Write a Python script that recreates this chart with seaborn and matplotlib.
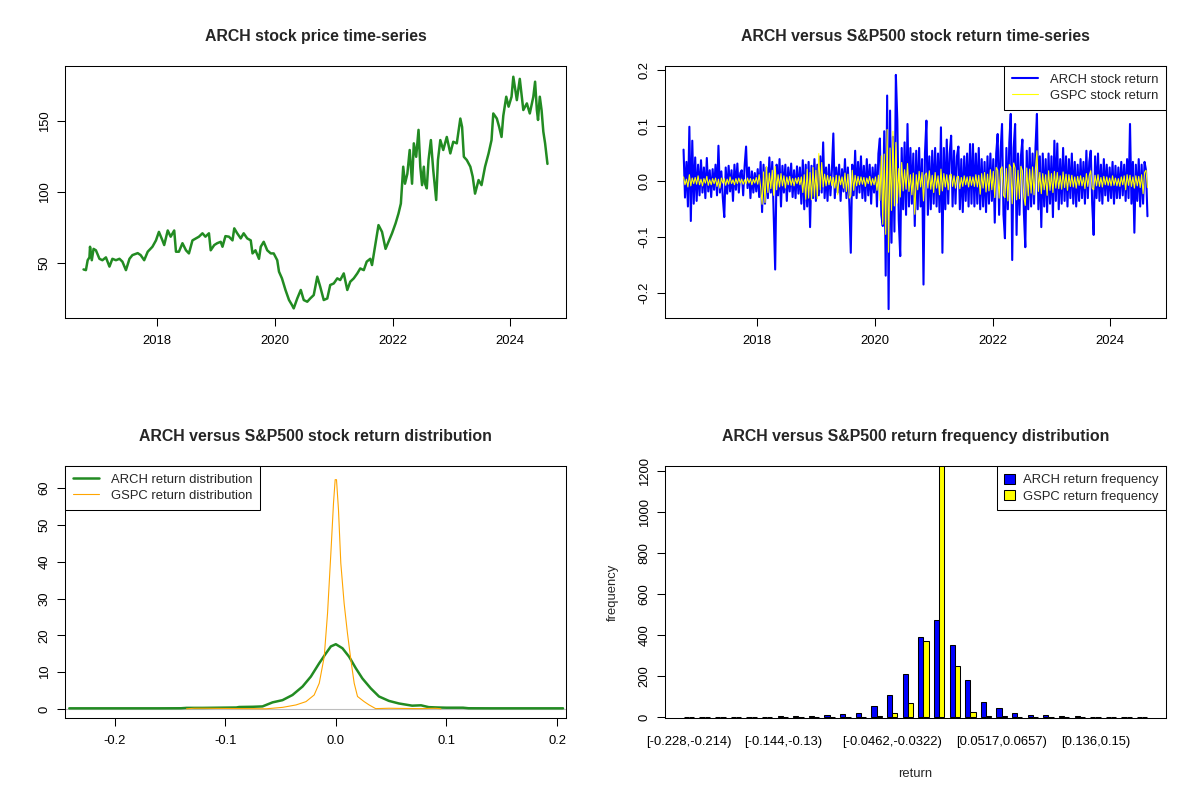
import numpy as np
import pandas as pd
import matplotlib
matplotlib.use("Agg")
import matplotlib.pyplot as plt
import seaborn as sns
from matplotlib.lines import Line2D
from matplotlib.patches import Patch

# ---------------- data ----------------
PRICE_YEARS = [2016.75, 2016.79, 2016.82, 2016.85, 2016.86, 2016.89, 2016.92, 2016.96, 2017.02, 2017.07,
               2017.13, 2017.19, 2017.24, 2017.30, 2017.36, 2017.41, 2017.47, 2017.53, 2017.58, 2017.67,
               2017.72, 2017.78, 2017.84, 2017.92, 2017.98, 2018.03, 2018.09, 2018.12, 2018.18, 2018.23,
               2018.29, 2018.32, 2018.37, 2018.43, 2018.49, 2018.54, 2018.60, 2018.66, 2018.71, 2018.77,
               2018.82, 2018.88, 2018.91, 2018.97, 2019.02, 2019.08, 2019.11, 2019.16, 2019.22, 2019.28,
               2019.31, 2019.36, 2019.42, 2019.47, 2019.53, 2019.59, 2019.62, 2019.67, 2019.73, 2019.76,
               2019.81, 2019.87, 2019.93, 2019.98, 2020.04, 2020.07, 2020.12, 2020.18, 2020.24, 2020.29,
               2020.32, 2020.38, 2020.44, 2020.49, 2020.55, 2020.60, 2020.66, 2020.72, 2020.77, 2020.83,
               2020.89, 2020.94, 2021.00, 2021.06, 2021.11, 2021.17, 2021.23, 2021.28, 2021.34, 2021.40,
               2021.45, 2021.51, 2021.56, 2021.62, 2021.65, 2021.71, 2021.76, 2021.82, 2021.88, 2021.93,
               2021.99, 2022.05, 2022.10, 2022.14, 2022.18, 2022.21, 2022.25, 2022.29, 2022.33, 2022.36,
               2022.40, 2022.44, 2022.47, 2022.50, 2022.53, 2022.55, 2022.58, 2022.61, 2022.65, 2022.69,
               2022.74, 2022.77, 2022.81, 2022.86, 2022.92, 2022.98, 2023.03, 2023.09, 2023.15, 2023.18,
               2023.21, 2023.26, 2023.32, 2023.36, 2023.40, 2023.46, 2023.51, 2023.57, 2023.63, 2023.68,
               2023.71, 2023.77, 2023.81, 2023.85, 2023.88, 2023.93, 2023.97, 2024.02, 2024.05, 2024.11,
               2024.16, 2024.22, 2024.28, 2024.33, 2024.39, 2024.42, 2024.45, 2024.47, 2024.50, 2024.53,
               2024.56, 2024.59, 2024.63]
ARCH_PRICE = [45.5, 45, 52, 54, 61.5, 52, 60, 59, 53, 52,
              54, 47.5, 53, 52, 53, 51, 45, 53, 55.6, 57,
              55.6, 52, 58, 61.5, 66, 72, 66, 62.7, 73, 68.6,
              73, 58, 58, 64, 59, 56.8, 66, 67.4, 68.6, 71,
              68.6, 71, 59, 62.7, 64, 65, 61.5, 69, 68.6, 66,
              74.5, 71, 67.4, 71, 67.4, 66, 56.8, 59, 53, 61.5,
              65, 59, 56.8, 56.8, 52, 43.9, 39.2, 31, 23.9, 20.4,
              18, 25, 31, 23.9, 22.7, 25, 27.4, 40.4, 33.3, 23.9,
              25, 34.5, 35.6, 39.2, 38, 42.7, 31, 36.8, 39.2, 42.7,
              46.2, 45, 51, 53, 48.6, 64, 76.8, 72, 60, 65,
              71, 78, 85, 92, 118, 106, 113, 129.8, 106, 134.5,
              125, 144, 118, 105, 118, 106, 102.7, 122.7, 136.8, 115.6,
              94.5, 122.7, 136.8, 129.8, 139, 127.4, 135.6, 134.5, 152, 146,
              125, 122.7, 118, 111, 99, 108.6, 105, 118, 127.4, 136.8,
              155.6, 152, 146, 139, 154, 167.4, 160.4, 167.4, 181.5, 165,
              180, 158, 162.7, 155.6, 167.4, 178, 158, 151, 167.4, 158,
              142.7, 134.5, 120]

RET_START, RET_END = 2016.75, 2024.63
ARCH_RET = [
    0.057, -0.029, 0.035, -0.045, 0.098, -0.071, 0.073, -0.040, 0.043, -0.035, 0.030, -0.025, 0.038, -0.020, 0.025, -0.030, 0.042, -0.018, 0.020, -0.028,
    0.022, -0.015, 0.030, -0.025, 0.064, -0.020, 0.018, -0.030, -0.064, 0.025, -0.022, 0.028, -0.018, 0.020, -0.035, 0.030, -0.015, 0.032, -0.020, 0.015,
    0.020, -0.025, 0.028, 0.0625, -0.012, 0.025, -0.030, 0.018, -0.020, 0.015, -0.018, 0.022, -0.028, 0.035, -0.055, 0.030, -0.040, 0.025, -0.030, 0.043,
    -0.020, 0.035, -0.062, -0.158, 0.030, -0.025, 0.040, -0.045, 0.028, -0.020, 0.030, -0.035, 0.025, -0.018, 0.032, -0.028, 0.020, -0.030, 0.027, -0.022,
    0.025, -0.040, 0.038, -0.050, 0.030, -0.045, 0.035, -0.082, 0.028, -0.030, 0.040, -0.035, 0.030, -0.025, 0.045, -0.020, 0.070, -0.030, 0.025, -0.035,
    0.030, -0.025, 0.020, 0.086, -0.030, 0.025, -0.020, 0.030, -0.035, 0.022, -0.018, 0.040, -0.030, 0.025, -0.040, -0.128, 0.030, -0.025, 0.055, -0.030,
    0.035, -0.020, 0.045, -0.030, 0.028, -0.035, 0.040, -0.025, 0.030, -0.040, 0.025, -0.020, 0.030, -0.045, 0.050, 0.077, -0.060, -0.080, 0.090, -0.169,
    0.154, -0.229, 0.127, -0.110, 0.080, -0.090, 0.191, 0.109, -0.070, -0.134, 0.060, -0.050, 0.070, -0.060, 0.103, -0.045, 0.060, -0.040, 0.050, -0.080,
    0.055, -0.050, 0.060, -0.045, 0.040, -0.185, 0.050, 0.109, -0.060, 0.045, -0.050, 0.055, -0.040, 0.060, -0.045, 0.050, -0.055, 0.097, -0.128, 0.060,
    -0.050, 0.075, -0.040, 0.050, 0.082, -0.045, 0.055, -0.040, 0.045, 0.0625, -0.050, 0.040, -0.055, 0.045, -0.035, 0.050, -0.045, 0.067, -0.040, 0.067,
    -0.045, 0.050, -0.040, 0.060, -0.050, 0.040, -0.045, 0.035, -0.055, 0.045, -0.040, 0.050, -0.035, 0.040, -0.074, 0.050, 0.085, -0.060, 0.055, 0.103,
    -0.060, -0.102, 0.060, -0.050, 0.070, 0.121, -0.141, 0.060, 0.103, -0.096, 0.050, -0.060, 0.045, 0.075, -0.055, -0.118, 0.055, -0.050, 0.060, -0.045,
    0.050, -0.040, 0.060, 0.121, -0.050, 0.045, -0.082, 0.050, -0.045, 0.040, -0.055, 0.050, -0.040, 0.045, -0.064, 0.073, -0.035, 0.068, -0.050, 0.040,
    -0.040, 0.060, -0.035, 0.045, -0.045, 0.040, -0.030, 0.050, -0.040, 0.035, -0.045, 0.030, -0.035, 0.040, -0.030, 0.035, -0.040, 0.055, -0.030, 0.035,
    0.055, -0.040, -0.096, 0.045, -0.030, 0.050, -0.035, 0.030, -0.040, 0.040, -0.025, 0.030, -0.035, 0.025, -0.030, 0.035, -0.040, 0.028, -0.030, 0.025,
    -0.030, 0.035, -0.025, 0.030, -0.035, 0.040, -0.030, 0.103, -0.040, 0.035, -0.092, 0.030, -0.035, 0.040, -0.045, 0.030, -0.040, 0.035, 0.020, -0.0625,
]
GSPC_RET = [
    0.008, -0.006, 0.004, -0.010, 0.012, -0.008, 0.006, -0.004, 0.007, -0.005, 0.010, -0.006, 0.004, -0.008, 0.005, -0.003, 0.009, -0.007, 0.003, -0.006,
    0.005, -0.004, 0.006, -0.009, 0.004, -0.012, 0.006, -0.003, 0.005, -0.007, 0.004, -0.005, 0.008, -0.004, 0.003, -0.006, 0.005, -0.004, 0.006, -0.003,
    0.004, -0.005, 0.003, -0.004, 0.006, -0.003, 0.005, -0.006, 0.004, -0.003, 0.007, -0.005, 0.012, -0.010, -0.041, 0.017, -0.038, 0.027, -0.020, 0.015,
    -0.013, 0.020, -0.025, 0.027, -0.015, 0.012, -0.010, 0.014, -0.008, 0.010, -0.012, 0.008, -0.006, 0.009, -0.007, 0.005, -0.008, 0.006, -0.004, 0.007,
    -0.006, 0.008, -0.020, 0.012, -0.032, 0.022, -0.030, 0.016, -0.033, 0.025, -0.027, 0.020, -0.031, 0.050, -0.015, 0.034, -0.010, 0.013, -0.008, 0.011,
    -0.006, 0.009, -0.008, 0.007, -0.012, 0.011, -0.024, 0.010, -0.006, 0.008, -0.012, 0.015, -0.018, 0.013, -0.030, -0.026, 0.020, -0.016, 0.011, -0.008,
    0.009, -0.006, 0.008, -0.005, 0.007, -0.009, 0.006, -0.004, 0.009, -0.007, 0.005, -0.006, 0.008, -0.016, 0.011, -0.034, 0.046, -0.077, 0.049, -0.095,
    0.093, -0.127, 0.060, -0.052, 0.090, -0.044, 0.070, -0.039, 0.023, -0.028, 0.034, -0.017, 0.021, -0.014, 0.032, -0.018, 0.012, -0.024, 0.015, -0.059,
    0.012, -0.015, 0.018, -0.010, 0.016, -0.035, 0.011, 0.015, -0.012, 0.019, -0.014, 0.011, -0.020, 0.016, -0.012, 0.010, -0.024, 0.022, -0.017, 0.014,
    -0.010, 0.012, -0.015, 0.011, 0.013, -0.009, 0.010, -0.012, 0.008, 0.009, -0.013, 0.007, -0.009, 0.010, -0.006, 0.008, -0.010, 0.009, -0.007, 0.008,
    -0.009, 0.012, -0.010, 0.011, -0.023, 0.014, -0.012, 0.016, -0.019, 0.013, -0.017, 0.021, -0.015, 0.018, -0.029, 0.025, 0.020, -0.030, 0.022, 0.026,
    -0.025, -0.029, 0.023, -0.035, 0.030, 0.025, -0.040, 0.033, 0.024, -0.033, 0.020, -0.031, 0.027, 0.019, -0.028, -0.043, 0.024, -0.026, 0.022, -0.021,
    0.026, -0.024, 0.023, 0.055, -0.018, 0.016, -0.022, 0.014, -0.015, 0.012, -0.025, 0.019, -0.016, 0.014, -0.020, 0.018, -0.012, 0.016, -0.013, 0.010,
    -0.014, 0.017, -0.011, 0.013, -0.016, 0.012, -0.009, 0.011, -0.010, 0.008, -0.012, 0.009, -0.007, 0.010, -0.008, 0.007, -0.013, 0.014, -0.009, 0.011,
    0.019, -0.012, -0.015, 0.011, -0.008, 0.012, -0.009, 0.007, -0.010, 0.009, -0.006, 0.008, -0.007, 0.006, -0.008, 0.010, -0.007, 0.006, -0.008, 0.005,
    -0.009, 0.008, -0.006, 0.010, -0.015, 0.012, -0.007, 0.011, -0.009, 0.008, -0.012, 0.010, -0.008, 0.009, -0.011, 0.012, -0.022, 0.016, 0.020, -0.011,
]

ARCH_DENS_X = [-0.241, -0.20, -0.16, -0.14, -0.135, -0.12, -0.105, -0.09, -0.0874, -0.075, -0.0663, -0.0572,
               -0.0482, -0.0392, -0.0301, -0.0226, -0.0151, -0.009, -0.0045, 0.0, 0.006, 0.012, 0.018, 0.024,
               0.0316, 0.039, 0.048, 0.057, 0.069, 0.077, 0.084, 0.093, 0.10, 0.115, 0.12, 0.14, 0.17, 0.2054]
ARCH_DENS_Y = [0.18, 0.18, 0.18, 0.2, 0.3, 0.3, 0.35, 0.4, 0.54, 0.6, 0.7, 1.8,
               2.4, 3.8, 6.1, 8.8, 12.4, 15.1, 17.0, 17.6, 16.5, 14.2, 11.1, 8.3,
               5.6, 3.4, 2.2, 1.5, 0.9, 1.0, 0.5, 0.4, 0.35, 0.35, 0.2, 0.18, 0.18, 0.18]
GSPC_DENS_X = [-0.135, -0.128, -0.118, -0.10, -0.08, -0.063, -0.048, -0.036, -0.027, -0.0196, -0.015,
               -0.0105, -0.0075, -0.0045, -0.0021, -0.0006, 0.0006, 0.0024, 0.0045, 0.0075, 0.0105,
               0.0136, 0.0166, 0.0196, 0.0256, 0.0301, 0.036, 0.048, 0.06, 0.075, 0.09, 0.095]
GSPC_DENS_Y = [0.05, 0.2, 0.2, 0.15, 0.1, 0.05, 0.45, 1.1, 2.0, 3.8, 7.0,
               14.2, 26, 42.3, 56, 62.3, 62.3, 54.1, 39.6, 28.7, 20.6,
               13.3, 7.0, 3.4, 2.0, 1.1, 0.1, 0.2, 0.15, 0.1, 0.2, 0.05]

ARCH_FREQ = [1, 0, 0, 0, 0, 1, 3, 3, 3, 10, 16, 21, 55, 109, 211, 392, 475, 353, 182, 75,
             45, 21, 11, 11, 6, 5, 1, 0, 0, 1]
GSPC_FREQ = [0, 0, 0, 0, 0, 0, 0, 1, 0, 1, 1, 2, 5, 20, 70, 372, 1265, 250, 25, 5,
             5, 2, 1, 1, 0, 0, 0, 0, 0, 0]
HIST_LABEL_BINS = [0, 6, 13, 20, 26]
HIST_LABELS = ["[-0.228,-0.214)", "[-0.144,-0.13)", "[-0.0462,-0.0322)", "[0.0517,0.0657)", "[0.136,0.15)"]

TITLES = ["ARCH stock price time-series",
          "ARCH versus S&P500 stock return time-series",
          "ARCH versus S&P500 stock return distribution",
          "ARCH versus S&P500 return frequency distribution"]

# ---------------- style ----------------
sns.set_style("white")
plt.rcParams['font.family'] = ['Liberation Sans', 'DejaVu Sans']
plt.rcParams['axes.linewidth'] = 0.75
FS = 9.4
TFS = 11.4

fig = plt.figure(figsize=(12, 8), dpi=100)
W, H = 1200.0, 800.0
BW, BH = 500.7, 252.6


def make_ax(left, top):
    ax = fig.add_axes([left / W, 1 - (top + BH) / H, BW / W, BH / H])
    for s in ax.spines.values():
        s.set_visible(True)
        s.set_color('black')
        s.set_linewidth(0.75)
    ax.tick_params(axis='both', direction='out', length=5.5, width=0.75,
                   labelsize=FS, colors='black', bottom=True, left=True)
    ax.tick_params(axis='x', pad=6.5)
    ax.tick_params(axis='y', pad=5, labelrotation=90)
    ax.set_facecolor('white')
    return ax


def fix_ylabels(ax):
    for lbl in ax.get_yticklabels():
        lbl.set_va('center')
        lbl.set_rotation(90)


def r_legend(ax, handles, labels, loc, **kw):
    leg = ax.legend(handles, labels, loc=loc, borderaxespad=0, frameon=True, fancybox=False,
                    edgecolor='black', framealpha=1, fontsize=FS, borderpad=0.6,
                    labelspacing=0.3, **kw)
    leg.get_frame().set_linewidth(0.75)
    return leg


# ---- panel 1: price ----
ax1 = make_ax(65.3, 65.7)
sns.lineplot(x=PRICE_YEARS, y=ARCH_PRICE, ax=ax1, color='#228B22', lw=1.8,
             estimator=None, sort=False)
ax1.set_xlim(2016.44, 2024.945)
ax1.set_ylim(11.0, 189.3)
ax1.set_xticks([2018, 2020, 2022, 2024])
ax1.set_xticklabels(['2018', '2020', '2022', '2024'])
ax1.set_yticks([50, 100, 150])
ax1.set_yticklabels(['50', '100', '150'])
fix_ylabels(ax1)
ax1.set_xlabel('')
ax1.set_ylabel('')
ax1.set_title(TITLES[0], fontsize=TFS, fontweight='bold', pad=18)

# ---- panel 2: returns ----
ax2 = make_ax(665.3, 65.7)
ret_years = np.linspace(RET_START, RET_END, len(ARCH_RET))
gspc_years = np.linspace(RET_START, RET_END, len(GSPC_RET))
sns.lineplot(x=ret_years, y=ARCH_RET, ax=ax2, color='blue', lw=1.5, estimator=None, sort=False)
sns.lineplot(x=gspc_years, y=GSPC_RET, ax=ax2, color='yellow', lw=0.8, estimator=None, sort=False)
ax2.set_xlim(2016.44, 2024.945)
ax2.set_ylim(-0.2455, 0.2075)
ax2.set_xticks([2018, 2020, 2022, 2024])
ax2.set_xticklabels(['2018', '2020', '2022', '2024'])
ax2.set_yticks([-0.2, -0.1, 0.0, 0.1, 0.2])
ax2.set_yticklabels(['-0.2', '-0.1', '0.0', '0.1', '0.2'])
fix_ylabels(ax2)
ax2.set_xlabel('')
ax2.set_ylabel('')
ax2.set_title(TITLES[1], fontsize=TFS, fontweight='bold', pad=18)
r_legend(ax2, [Line2D([], [], color='blue', lw=1.5), Line2D([], [], color='yellow', lw=0.8)],
         ['ARCH stock return', 'GSPC stock return'], 'upper right',
         handlelength=2.0, handletextpad=0.9)

# ---- panel 3: density ----
ax3 = make_ax(65.3, 465.7)
sns.lineplot(x=ARCH_DENS_X, y=ARCH_DENS_Y, ax=ax3, color='#228B22', lw=1.8, estimator=None, sort=False)
ax3.axhline(0, color='#BEBEBE', lw=0.8, zorder=1.5)
sns.lineplot(x=GSPC_DENS_X, y=GSPC_DENS_Y, ax=ax3, color='orange', lw=0.8, estimator=None, sort=False)
ax3.set_xlim(-0.2446, 0.2081)
ax3.set_ylim(-2.53, 66.1)
ax3.set_xticks([-0.2, -0.1, 0.0, 0.1, 0.2])
ax3.set_xticklabels(['-0.2', '-0.1', '0.0', '0.1', '0.2'])
ax3.set_yticks([0, 10, 20, 30, 40, 50, 60])
ax3.set_yticklabels(['0', '10', '20', '30', '40', '50', '60'])
fix_ylabels(ax3)
ax3.set_xlabel('')
ax3.set_ylabel('')
ax3.set_title(TITLES[2], fontsize=TFS, fontweight='bold', pad=18)
r_legend(ax3, [Line2D([], [], color='#228B22', lw=1.8), Line2D([], [], color='orange', lw=0.8)],
         ['ARCH return distribution', 'GSPC return distribution'], 'upper left',
         handlelength=2.0, handletextpad=0.9)

# ---- panel 4: frequency bars ----
ax4 = make_ax(665.3, 465.7)
nb = len(ARCH_FREQ)
hist_df = pd.DataFrame({
    'bin': list(range(nb)) + list(range(nb)),
    'count': ARCH_FREQ + GSPC_FREQ,
    'series': ['ARCH'] * nb + ['GSPC'] * nb,
})
sns.barplot(data=hist_df, x='bin', y='count', hue='series', order=list(range(nb)),
            palette={'ARCH': 'blue', 'GSPC': 'yellow'}, saturation=1, width=2 / 3, gap=0,
            edgecolor='black', linewidth=0.75, ax=ax4, legend=False, errorbar=None)
ax4.set_xlim(-1.52, nb + 0.52)
ax4.set_ylim(-6, 1228)
ax4.set_xticks(HIST_LABEL_BINS)
ax4.set_xticklabels(HIST_LABELS)
ax4.tick_params(axis='x', length=0, pad=13)
ax4.set_yticks([0, 200, 400, 600, 800, 1000, 1200])
ax4.set_yticklabels(['0', '200', '400', '600', '800', '1000', '1200'])
fix_ylabels(ax4)
ax4.set_xlabel('return', fontsize=FS, labelpad=14)
ax4.set_ylabel('frequency', fontsize=FS, labelpad=14)
ax4.set_title(TITLES[3], fontsize=TFS, fontweight='bold', pad=18)
r_legend(ax4, [Patch(facecolor='blue', edgecolor='black', lw=0.75),
               Patch(facecolor='yellow', edgecolor='black', lw=0.75)],
         ['ARCH return frequency', 'GSPC return frequency'], 'upper right',
         handlelength=0.8, handleheight=0.8, handletextpad=0.6)

fig.savefig('out.png', dpi=100, facecolor='white')
